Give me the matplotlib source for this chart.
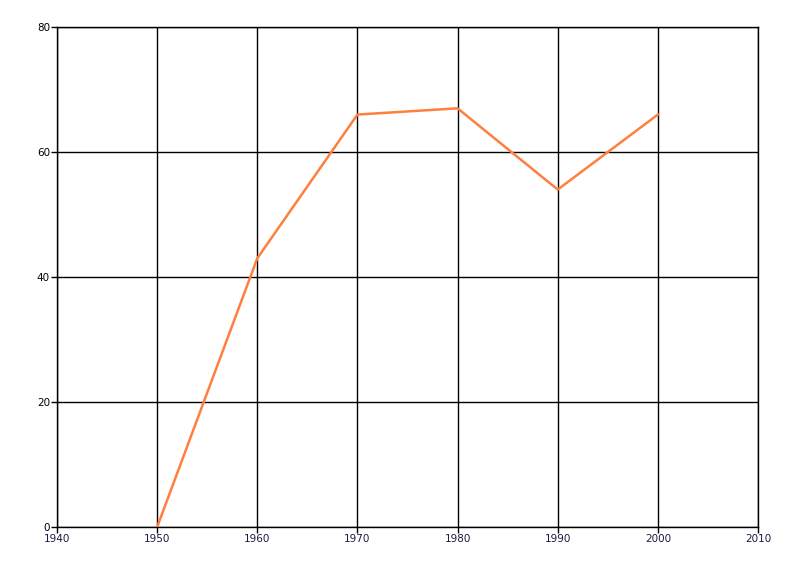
import matplotlib
matplotlib.use('Agg')
from matplotlib import pyplot as plt

years = [1950, 1960, 1970, 1980, 1990, 2000]
values = [0, 43, 66, 67, 54, 66]

xticks = [1940, 1950, 1960, 1970, 1980, 1990, 2000, 2010]
yticks = [0, 20, 40, 60, 80]

fig = plt.figure(figsize=(8, 5.76), dpi=100)
ax = fig.add_axes([0.07125, 0.085, 0.87625, 0.868])
ax.plot(years, values, color='#FF7F3F', linewidth=1.8, zorder=3)

ax.set_xlim(1940, 2010)
ax.set_ylim(0, 80)
ax.set_xticks(xticks)
ax.set_yticks(yticks)
ax.grid(True, color='black', linewidth=1.0)
for s in ax.spines.values():
  s.set_linewidth(1.0)
ax.tick_params(direction='out', length=4, width=1, labelsize=7.5, pad=1, colors='black')
for lbl in ax.get_xticklabels():
  lbl.set_color('#1a1a40')

fig.savefig('out.png', dpi=100)
